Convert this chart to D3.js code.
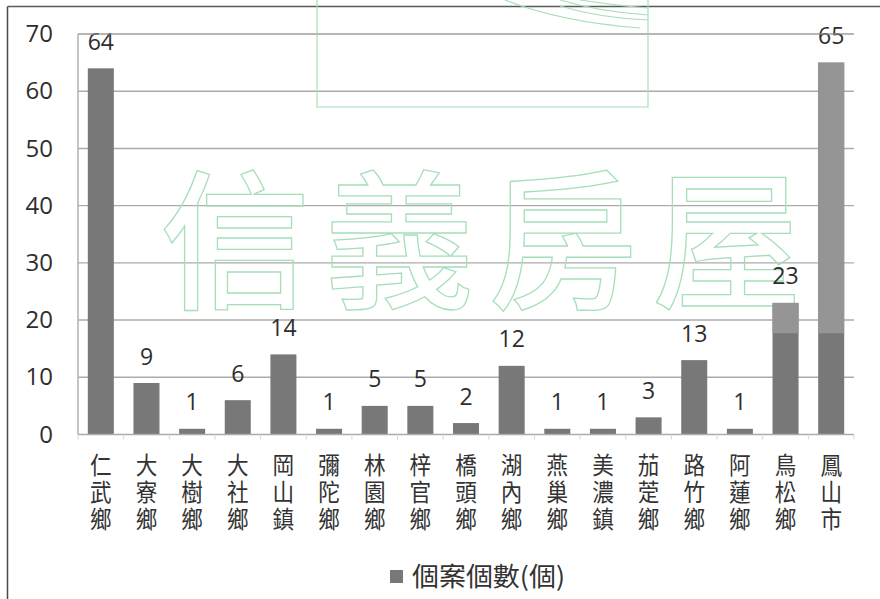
<!DOCTYPE html>
<html><head><meta charset="utf-8">
<script src="https://cdn.jsdelivr.net/npm/d3@7"></script>
<style>
html,body{margin:0;padding:0;background:#fff;}
svg{display:block;}
</style></head>
<body>
<svg id="chart" width="880" height="599"></svg>
<script>
const categories = ["仁武鄉","大寮鄉","大樹鄉","大社鄉","岡山鎮","彌陀鄉","林園鄉","梓官鄉","橋頭鄉","湖內鄉","燕巢鄉","美濃鎮","茄萣鄉","路竹鄉","阿蓮鄉","鳥松鄉","鳳山市"];
const values = [64,9,1,6,14,1,5,5,2,12,1,1,3,13,1,23,65];
const yTicks = [0,10,20,30,40,50,60,70];
const seriesName = "個案個數(個)";
const watermarkText = "信義房屋";
const fadedCategories = ["鳥松鄉","鳳山市"];
const fadeFrom = 17.7;

const svg = d3.select("#chart");
const plot = {left:78, right:854, top:34, bottom:434.5};
const x = d3.scaleBand().domain(categories).range([plot.left, plot.right]).paddingInner(0.43).paddingOuter(0.215);
const y = d3.scaleLinear().domain([0,70]).range([plot.bottom, plot.top]);

// outer frame (left + top)
svg.append("line").attr("x1",7.5).attr("x2",7.5).attr("y1",6.5).attr("y2",599).attr("stroke","#4a4a4a").attr("stroke-width",1.5);
svg.append("line").attr("x1",7.5).attr("x2",880).attr("y1",6.5).attr("y2",6.5).attr("stroke","#5a5a5a").attr("stroke-width",1.5);

// gridlines
svg.append("g").selectAll("line").data(yTicks.filter(d=>d>0)).join("line")
  .attr("x1",plot.left).attr("x2",plot.right)
  .attr("y1",d=>y(d)).attr("y2",d=>y(d))
  .attr("stroke","#ababab").attr("stroke-width",1.4);

// y axis line
svg.append("line").attr("x1",plot.left).attr("x2",plot.left).attr("y1",y(70)).attr("y2",y(0)).attr("stroke","#ababab").attr("stroke-width",1.4);

// y tick labels
const yAxis = d3.axisLeft(y).tickValues(yTicks).tickSize(0).tickPadding(25);
const gy = svg.append("g").attr("transform",`translate(${plot.left},0)`).call(yAxis);
gy.select(".domain").remove();
gy.selectAll("text").attr("font-family","'Open Sans', sans-serif").attr("font-size",24).attr("fill","#2e2e2e");

// watermark (behind bars)
const wmColor = "#a6dfb7";
const wm = svg.append("g").attr("fill","none").attr("stroke",wmColor).attr("stroke-width",1.2);
wm.append("path").attr("d","M317,0 V107 H648 V0");
wm.append("path").attr("d","M505,0 Q560,22 640,28");
wm.append("path").attr("d","M560,0 Q600,12 648,15");
wm.append("path").attr("d","M560,6 Q600,18 648,20");
wm.append("path").attr("d","M580,0 Q620,6 648,8");
wm.append("text").attr("x",488).attr("y",297).attr("text-anchor","middle")
  .attr("font-family","'Noto Sans CJK TC', sans-serif").attr("font-size",150).attr("font-weight",500)
  .attr("letter-spacing",14).attr("fill","none").attr("stroke",wmColor).attr("stroke-width",1.3)
  .text(watermarkText);

// bars
const bars = svg.append("g");
bars.selectAll("rect").data(categories).join("rect")
  .attr("x",d=>x(d)).attr("width",x.bandwidth())
  .attr("y",(d,i)=>y(values[i])).attr("height",(d,i)=>y(0)-y(values[i]))
  .attr("fill","#787878");
// faded upper parts (watermark overlay effect)
bars.selectAll("rect.fade").data(categories.filter(d=>fadedCategories.includes(d))).join("rect")
  .attr("class","fade")
  .attr("x",d=>x(d)).attr("width",x.bandwidth())
  .attr("y",d=>y(values[categories.indexOf(d)]))
  .attr("height",d=>y(fadeFrom)-y(values[categories.indexOf(d)]))
  .attr("fill","#959595");

// x baseline + ticks
svg.append("line").attr("x1",plot.left).attr("x2",plot.right).attr("y1",y(0)).attr("y2",y(0)).attr("stroke","#ababab").attr("stroke-width",1.4);
const step = x.step();
svg.append("g").selectAll("line").data(d3.range(categories.length+1)).join("line")
  .attr("x1",i=>plot.left + i*step).attr("x2",i=>plot.left + i*step)
  .attr("y1",y(0)).attr("y2",y(0)+5).attr("stroke","#d8d8d8").attr("stroke-width",1);

// data labels
svg.append("g").selectAll("text").data(categories).join("text")
  .attr("x",d=>x(d)+x.bandwidth()/2)
  .attr("y",(d,i)=>y(values[i])-18.5)
  .attr("text-anchor","middle")
  .attr("font-family","'Open Sans', sans-serif").attr("font-size",23).attr("fill","#2e2e2e")
  .text((d,i)=>values[i]);

// 70 gridline overlaps the 65 label as in reference
svg.append("line").attr("x1",plot.left).attr("x2",plot.right).attr("y1",y(70)).attr("y2",y(70)).attr("stroke","#ababab").attr("stroke-width",1.2).attr("opacity",0.9);

// x labels (vertical)
const xl = svg.append("g");
categories.forEach(c=>{
  const t = xl.append("text")
    .attr("text-anchor","middle")
    .attr("font-family","'Noto Sans CJK TC', sans-serif").attr("font-size",24).attr("fill","#333")
    .attr("transform",`translate(${x(c)+x.bandwidth()/2},0) scale(0.9,1)`);
  Array.from(c).forEach((ch,k)=>{
    t.append("tspan").attr("x",0).attr("y",474 + k*27).text(ch);
  });
});

// legend
const lg = svg.append("g");
lg.append("rect").attr("x",390).attr("y",570).attr("width",13).attr("height",13).attr("fill","#787878");
lg.append("text").attr("x",412).attr("y",586).attr("font-family","'Noto Sans CJK TC', sans-serif").attr("font-size",26).attr("fill","#333")
  .attr("textLength",153).attr("lengthAdjust","spacingAndGlyphs").text(seriesName);
</script>
</body></html>
